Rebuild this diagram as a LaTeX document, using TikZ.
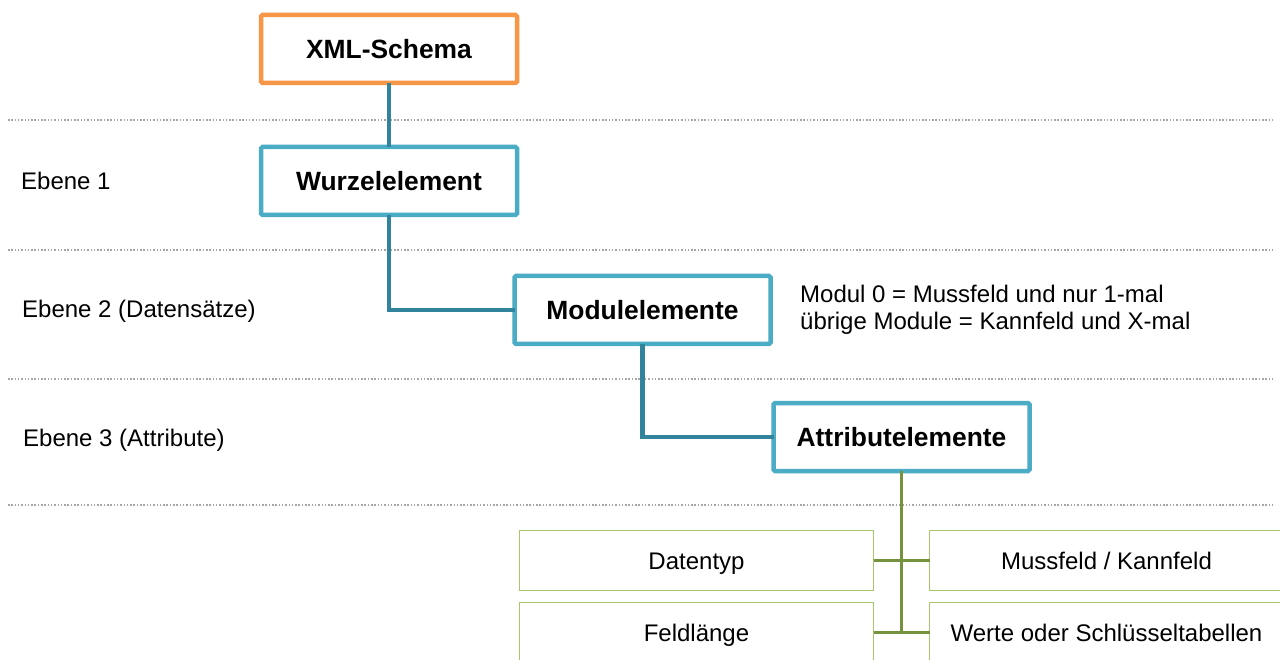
\documentclass[tikz,border=0pt]{standalone}
\usepackage{fontspec}
\setmainfont{Liberation Sans}
\definecolor{orgC}{HTML}{F79646}
\definecolor{bluC}{HTML}{4BACC6}
\definecolor{tealC}{HTML}{31849B}
\definecolor{grnBox}{HTML}{A8C66C}
\definecolor{grnLine}{HTML}{76923C}
\definecolor{dotC}{HTML}{A6A6A6}
\tikzset{
  mainbox/.style={draw=bluC, line width=4.5pt, fill=white, rounded corners=1.5pt,
    minimum width=256pt, minimum height=68pt, inner sep=0pt, outer sep=0pt,
    text height=23.9pt, text depth=5pt,
    font=\fontsize{26.4}{30}\selectfont\bfseries},
  topbox/.style={mainbox, draw=orgC},
  subbox/.style={draw=grnBox, line width=1.3pt, fill=white,
    minimum width=354pt, minimum height=60pt, inner sep=0pt, outer sep=0pt,
    text height=22.2pt, text depth=5pt,
    font=\fontsize{24}{27.5}\selectfont},
  conn/.style={draw=tealC, line width=4.5pt},
  gconn/.style={draw=grnLine, line width=2.6pt},
  level/.style={draw=dotC, line width=1.3pt, dash pattern=on 1.5pt off 1.8pt},
  lbl/.style={anchor=base west, inner sep=0pt, font=\fontsize{24}{27.5}\selectfont}
}
\begin{document}
\begin{tikzpicture}[x=1pt,y=-1pt]
\clip (0,0) rectangle (1280,660);
\fill[white] (0,0) rectangle (1280,660);
% level separators
\coordinate (l1a) at (8,120);  \coordinate (l1b) at (1275,120);
\coordinate (l2a) at (8,250);  \coordinate (l2b) at (1275,250);
\coordinate (l3a) at (8,379);  \coordinate (l3b) at (1275,379);
\coordinate (l4a) at (8,505);  \coordinate (l4b) at (1275,505);
\draw[level] (l1a) -- (l1b);
\draw[level] (l2a) -- (l2b);
\draw[level] (l3a) -- (l3b);
\draw[level] (l4a) -- (l4b);
% level labels
\node[lbl] (e1) at (21,190) {Ebene 1};
\node[lbl] (e2) at (22,318) {Ebene 2 (Datensätze)};
\node[lbl] (e3) at (23,446) {Ebene 3 (Attribute)};
% main boxes
\node[topbox]  (xml)  at (389,49)    {XML-Schema};
\node[mainbox] (wur)  at (389,181)   {Wurzelelement};
\node[mainbox] (mod)  at (642.5,310) {Modulelemente};
\node[mainbox] (att)  at (901.5,437) {Attributelemente};
% connectors
\draw[conn] (xml.south) -- (wur.north);
\draw[conn] (wur.south) |- (mod.west);
\draw[conn] (mod.south) |- (att.west);
% note
\node[anchor=north west, inner sep=0pt, align=left,
      font=\fontsize{24}{26.7}\selectfont] (note) at (800,285)
  {Modul 0 = Mussfeld und nur 1-mal\\übrige Module = Kannfeld und X-mal};
% sub boxes
\node[subbox] (dat)  at (696.5,560.5)  {Datentyp};
\node[subbox] (mus)  at (1106.5,560.5) {Mussfeld / Kannfeld};
\node[subbox] (fel)  at (696.5,632.5)  {Feldlänge};
\node[subbox] (wer)  at (1106.5,632.5) {Werte oder Schlüsseltabellen};
% green connectors
\draw[gconn] (att.south) -- (att.south |- fel.east);
\draw[gconn] (dat.east) -- (mus.west);
\draw[gconn] (fel.east) -- (wer.west);
\end{tikzpicture}
\end{document}
